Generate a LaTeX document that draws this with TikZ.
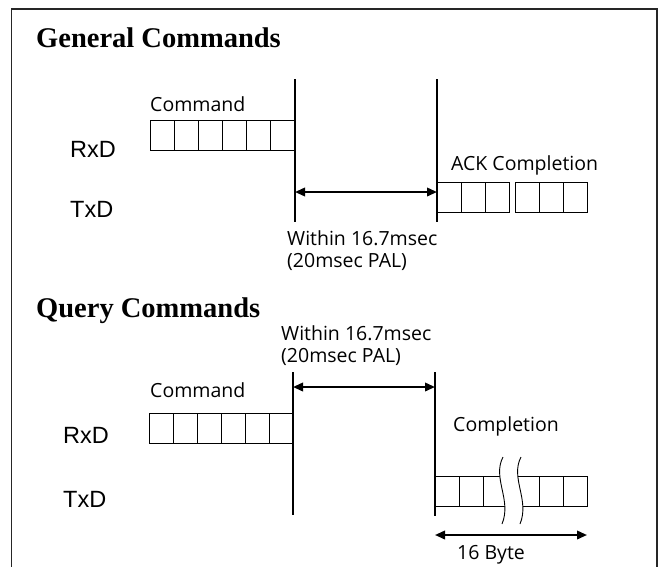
\documentclass[tikz,border=0pt]{standalone}
\usepackage{fontspec}
\setmainfont{Open Sans}
\newfontfamily\titlefont{Liberation Serif}
\newfontfamily\helv{Liberation Sans}
\usetikzlibrary{arrows.meta}
\begin{document}
\begin{tikzpicture}[x=1pt,y=-1pt,
  cell/.style={draw, line width=0.9pt, minimum width=24.2pt, minimum height=30.5pt, inner sep=0pt, outer sep=0pt, anchor=north west},
  lbl/.style={font=\fontsize{19.5}{22}\selectfont, inner sep=0pt, anchor=base west},
  sig/.style={font=\helv\fontsize{23.5}{26}\selectfont, inner sep=0pt, anchor=base west},
  ttl/.style={font=\titlefont\bfseries\fontsize{28.5}{30}\selectfont, inner sep=0pt, anchor=base west},
  guide/.style={line width=1.2pt},
  span/.style={line width=2pt, {Triangle[length=10pt,width=8.5pt]}-{Triangle[length=10pt,width=8.5pt]}},
  brk/.style={line width=0.9pt}]
\useasboundingbox (0,0) rectangle (662,566);
% frame
\coordinate (fbl) at (11.5,570);
\coordinate (ftl) at (11.5,9);
\coordinate (ftr) at (657,9);
\coordinate (fbr) at (657,570);
\draw[line width=1.4pt, black!85] (fbl) -- (ftl) -- (ftr) -- (fbr);

% ===== General Commands =====
\node[ttl] (gtitle) at (36,47) {General Commands};
\node[sig] (grxd) at (70,157) {RxD};
\node[sig] (gtxd) at (70,217) {TxD};
\node[lbl] (gcmd) at (150,111) {Command};
\foreach \i in {0,...,5} \node[cell] (gc\i) at ({150+\i*24.17},120) {};
\coordinate (g1t) at (295,79);
\coordinate (g1b) at (295,222);
\coordinate (g2t) at (437,79);
\coordinate (g2b) at (437,222);
\draw[guide] (g1t) -- (g1b);
\draw[guide] (g2t) -- (g2b);
\coordinate (ga1) at (295,192);
\coordinate (ga2) at (437,192);
\draw[span] (ga1) -- (ga2);
\node[lbl] (gw1) at (287,245) {Within 16.7msec};
\node[lbl] (gw2) at (287,267) {(20msec PAL)};
\node[lbl] (gack) at (451,170) {ACK Completion};
\foreach \i in {0,...,2} \node[cell] (ga\i) at ({437+\i*24.1},182) {};
\foreach \i in {0,...,2} \node[cell] (gb\i) at ({515+\i*24.3},182) {};

% ===== Query Commands =====
\node[ttl] (qtitle) at (36,317) {Query Commands};
\node[lbl] (qw1) at (281,340) {Within 16.7msec};
\node[lbl] (qw2) at (281,362) {(20msec PAL)};
\node[sig] (qrxd) at (63,443) {RxD};
\node[sig] (qtxd) at (63,507) {TxD};
\node[lbl] (qcmd) at (150,397) {Command};
\foreach \i in {0,...,5} \node[cell] (qc\i) at ({149+\i*24},413) {};
\coordinate (q1t) at (293,372);
\coordinate (q1b) at (293,515);
\coordinate (q2t) at (435,372);
\coordinate (q2b) at (435,516);
\draw[guide] (q1t) -- (q1b);
\draw[guide] (q2t) -- (q2b);
\coordinate (qa1) at (293,387);
\coordinate (qa2) at (435,387);
\draw[span] (qa1) -- (qa2);
\node[lbl] (qcomp) at (453,431) {Completion};
\foreach \i in {0,...,1} \node[cell] (qa\i) at ({435+\i*24.3},476) {};
\foreach \i in {0,...,1} \node[cell] (qb\i) at ({539+\i*24},476) {};
\draw[brk] (qa1.north east) -- (qb0.north west);
\draw[brk] (qa1.south east) -- (qb0.south west);
% break symbol
\fill[white] (503,457) .. controls (492,478) and (512,500) .. (502,524)
  -- (520,524) .. controls (530,500) and (510,478) .. (521,457) -- cycle;
\draw[brk] (503,457) .. controls (492,478) and (512,500) .. (502,524);
\draw[brk] (521,457) .. controls (510,478) and (530,500) .. (520,524);
\coordinate (qs1) at (435,535);
\coordinate (qs2) at (587,535);
\draw[span] (qs1) -- (qs2);
\node[lbl] (qbyte) at (457,559) {16 Byte};
\end{tikzpicture}
\end{document}
